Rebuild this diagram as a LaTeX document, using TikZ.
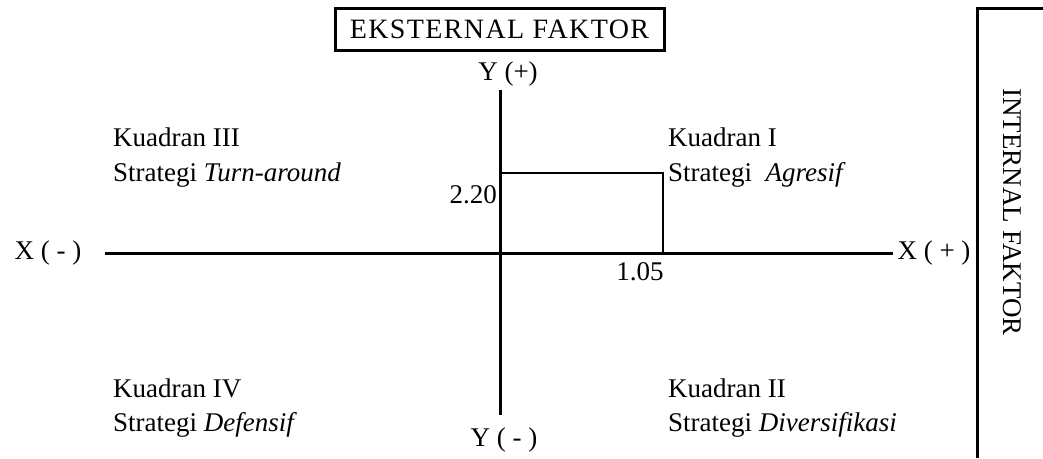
\documentclass[tikz,border=0pt]{standalone}
\usepackage{fontspec}
\setmainfont{Liberation Serif}
\usetikzlibrary{positioning}

\begin{document}
\begin{tikzpicture}[x=1pt, y=-1pt, font=\fontsize{27}{32}\selectfont,
  axis/.style={line width=3pt},
  lbl/.style={inner sep=0pt},
  quad/.style={inner sep=0pt, anchor=west},
  frame/.style={draw, line width=3pt}]

  \useasboundingbox (0,0) rectangle (1043,458);

  % axes
  \coordinate (O)  at (500,253);
  \coordinate (xl) at (105,253);
  \coordinate (xr) at (893,253);
  \coordinate (yt) at (500,90);
  \coordinate (yb) at (500,415);
  \coordinate (pt) at (663,173);
  \draw[axis] (xl) -- (xr);
  \draw[axis] (yt) -- (yb);
  \draw[line width=2pt] (O) rectangle (pt);

  \node[lbl] (xneg) at (48,253)  {X ( - )};
  \node[lbl] (xpos) at (934,253) {X ( + )};
  \node[lbl] (ypos) at (508,74)  {Y (+)};
  \node[lbl] (yneg) at (504,440) {Y ( - )};
  \node[lbl, anchor=east] (vy) at (497,195) {2.20};
  \node[lbl] (vx) at (640,272) {1.05};

  \node[quad] (k3) at (113,137) {Kuadran III};
  \node[quad] (s3) at (113,175) {Strategi \textit{Turn-around}};
  \node[quad] (k1) at (668,137) {Kuadran I};
  \node[quad] (s1) at (668,175) {Strategi\ \ \textit{Agresif}};
  \node[quad] (k4) at (113,388) {Kuadran IV};
  \node[quad] (s4) at (113,425) {Strategi \textit{Defensif}};
  \node[quad] (k2) at (668,388) {Kuadran II};
  \node[quad] (s2) at (668,425) {Strategi \textit{Diversifikasi}};

  % faktor boxes
  \node[frame, minimum width=329pt, minimum height=42pt] (ext) at (499.5,29)
    {\fontsize{28}{32}\selectfont\addfontfeature{LetterSpace=5}EKSTERNAL FAKTOR};
  \coordinate (ia) at (1043,8);
  \coordinate (ib) at (977,8);
  \coordinate (ic) at (977,458);
  \draw[line width=3pt] (ia) -- (ib) -- (ic);
  \node[lbl, rotate=-90] (int) at (1012,212) {INTERNAL FAKTOR};

\end{tikzpicture}
\end{document}
